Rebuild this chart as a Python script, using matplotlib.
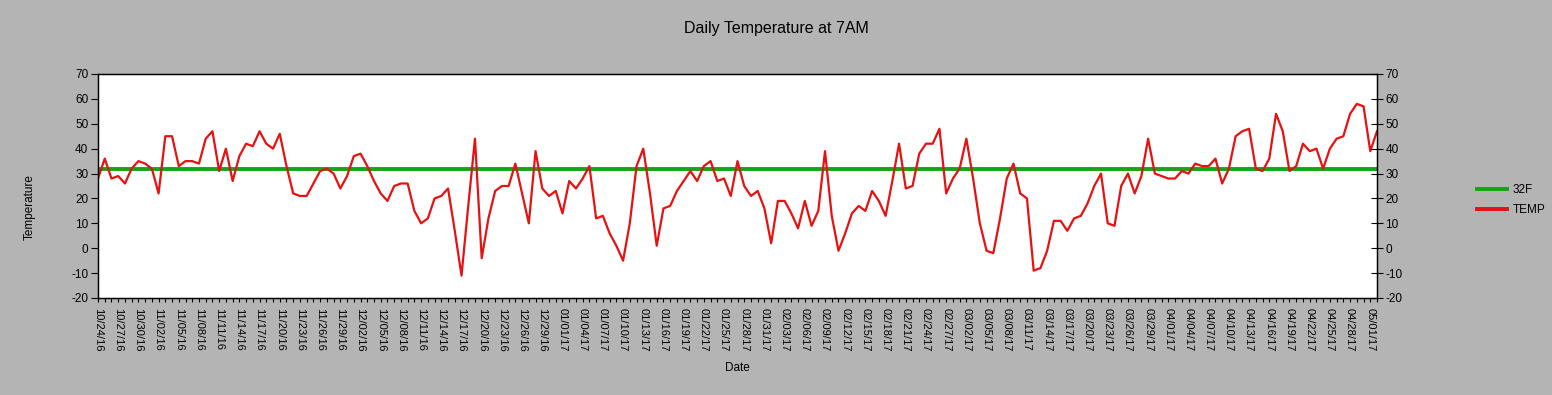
import matplotlib
matplotlib.use("Agg")
import matplotlib.pyplot as plt
import matplotlib.transforms as mtransforms
from matplotlib.lines import Line2D
import numpy as np
import pandas as pd

plt.rcParams['font.family'] = ['Liberation Sans', 'DejaVu Sans']
plt.rcParams['axes.unicode_minus'] = False

# daily readings at 7AM, starting 10/24/16
START_DATE = "2016-10-24"
temps = [
    28, 36, 28, 29, 26, 32, 35, 34, 32, 22,
    45, 45, 33, 35, 35, 34, 44, 47, 31, 40,
    27, 37, 42, 41, 47, 42, 40, 46, 33, 22,
    21, 21, 26, 31, 32, 30, 24, 29, 37, 38,
    33, 27, 22, 19, 25, 26, 26, 15, 10, 12,
    20, 21, 24, 7, -11, 17, 44, -4, 12, 23,
    25, 25, 34, 22, 10, 39, 24, 21, 23, 14,
    27, 24, 28, 33, 12, 13, 6, 1, -5, 10,
    33, 40, 22, 1, 16, 17, 23, 27, 31, 27,
    33, 35, 27, 28, 21, 35, 25, 21, 23, 16,
    2, 19, 19, 14, 8, 19, 9, 15, 39, 13,
    -1, 6, 14, 17, 15, 23, 19, 13, 27, 42,
    24, 25, 38, 42, 42, 48, 22, 28, 32, 44,
    28, 10, -1, -2, 12, 28, 34, 22, 20, -9,
    -8, -1, 11, 11, 7, 12, 13, 18, 25, 30,
    10, 9, 25, 30, 22, 29, 44, 30, 29, 28,
    28, 31, 30, 34, 33, 33, 36, 26, 32, 45,
    47, 48, 32, 31, 36, 54, 47, 31, 33, 42,
    39, 40, 32, 40, 44, 45, 54, 58, 57, 39,
    47,
]
freezing = 32
y_ticks = list(range(-20, 80, 10))

RED = '#E81010'
GREEN = '#14A514'
BG = '#B4B4B4'

W, H = 1552, 395
dates = pd.date_range(START_DATE, periods=len(temps), freq='D')
date_labels = list(dates.strftime('%m/%d/%y'))
x = np.arange(len(temps))

fig = plt.figure(figsize=(W / 100, H / 100), dpi=100, facecolor=BG)
ax = fig.add_axes([98 / W, 1 - 298 / H, (1377 - 98) / W, (298 - 74) / H])
ax.set_facecolor('white')

ax.plot(x, [freezing] * len(x), color=GREEN, lw=2.8)
ax.plot(x, temps, color=RED, lw=1.6)

ax.set_xlim(0, len(temps) - 1)
ax.set_ylim(-20, 70)
ax.set_yticks(y_ticks)
ax.set_xticks(x, minor=True)
ax.set_xticks(x[::3])
ax.set_xticklabels(date_labels[::3], rotation=-90, fontsize=8,
                   ha='center', va='top')
shift = mtransforms.ScaledTranslation(6 / 100, 0, fig.dpi_scale_trans)
for lbl in ax.get_xticklabels():
    lbl.set_transform(lbl.get_transform() + shift)

ax.tick_params(axis='x', which='both', direction='out', length=3, width=0.8, pad=4)
ax.tick_params(axis='y', direction='out', length=5, width=0.8, labelsize=8.5, pad=2)
for s in ax.spines.values():
    s.set_color('black')
    s.set_linewidth(1.0)

ax2 = ax.twinx()
ax2.set_ylim(-20, 70)
ax2.set_yticks(y_ticks)
ax2.tick_params(axis='y', direction='inout', length=8, width=0.8, labelsize=8.5, pad=2)

fig.text(0.5, 1 - 28 / H, 'Daily Temperature at 7AM', ha='center', va='center', fontsize=11.5)
fig.text(30 / W, 1 - 207 / H, 'Temperature', rotation=90, ha='center', va='center', fontsize=8.5)
fig.text(737 / W, 1 - 368 / H, 'Date', ha='center', va='center', fontsize=8.5)

handles = [Line2D([], [], color=GREEN, lw=2.8), Line2D([], [], color=RED, lw=2.8)]
fig.legend(handles, ['32F', 'TEMP'], loc='center left',
           bbox_to_anchor=(1477 / W, 1 - 200 / H), frameon=False, fontsize=8.5,
           handlelength=2.55, handletextpad=0.45, labelspacing=0.65,
           borderpad=0, borderaxespad=0)

fig.savefig('out.png', dpi=100, facecolor=BG)
